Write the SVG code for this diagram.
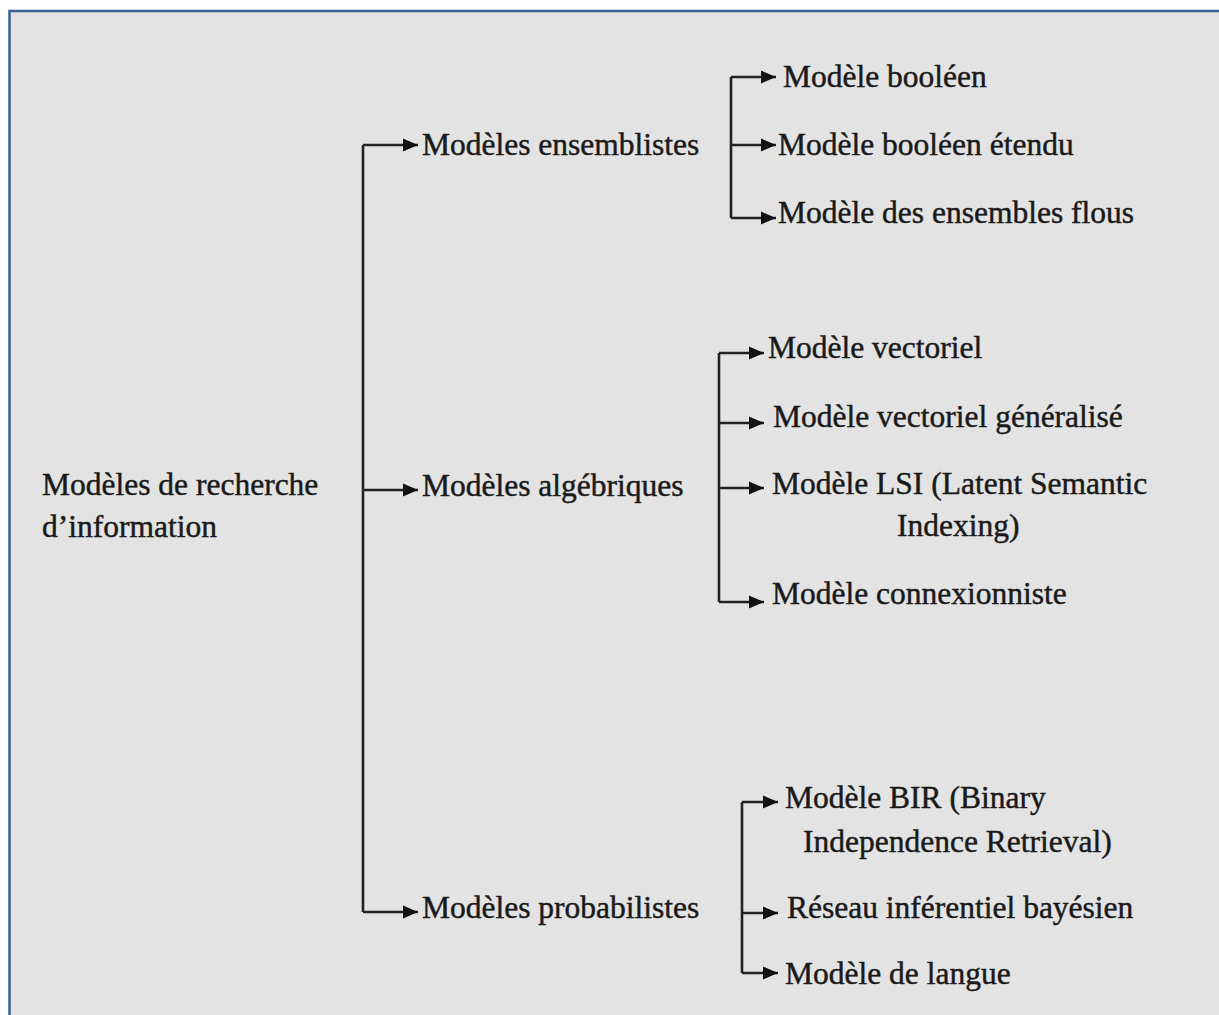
<svg xmlns="http://www.w3.org/2000/svg" width="1219" height="1015" viewBox="0 0 1219 1015">
  <defs>
    <marker id="arrow" markerUnits="userSpaceOnUse" markerWidth="16" markerHeight="14" refX="15" refY="7" orient="auto">
      <path d="M0,0.5 L15,7 L0,13.5 Z" fill="#111"/>
    </marker>
    <style>
      .lbl { font-family: "Liberation Serif", "Times New Roman", serif; font-size: 31.5px; fill: #1a1a1a; stroke: #1a1a1a; stroke-width: 0.45px; }
      .link { fill: none; stroke: #222; stroke-width: 2.6; }
      .arr { fill: none; stroke: #222; stroke-width: 2.6; marker-end: url(#arrow); }
    </style>
  </defs>

  <!-- page and framed panel -->
  <rect x="0" y="0" width="1219" height="1015" fill="#ffffff"/>
  <rect x="9.5" y="11" width="1220" height="1020" fill="#e3e3e3" stroke="#36608f" stroke-width="2.5"/>

  <!-- connectors -->
  <g id="connectors">
    <!-- root to the three families -->
    <path class="link" d="M363,145 V912"/>
    <path class="arr" d="M363,145 H418"/>
    <path class="arr" d="M363,490 H418"/>
    <path class="arr" d="M363,912 H418"/>
    <!-- set-theoretic models -->
    <path class="link" d="M731,77 V218"/>
    <path class="arr" d="M731,77 H776"/>
    <path class="arr" d="M731,145 H776"/>
    <path class="arr" d="M731,218 H776"/>
    <!-- algebraic models -->
    <path class="link" d="M719,353 V602"/>
    <path class="arr" d="M719,353 H764"/>
    <path class="arr" d="M719,423 H764"/>
    <path class="arr" d="M719,488 H764"/>
    <path class="arr" d="M719,602 H764"/>
    <!-- probabilistic models -->
    <path class="link" d="M742,802 V973"/>
    <path class="arr" d="M742,802 H778"/>
    <path class="arr" d="M742,913 H778"/>
    <path class="arr" d="M742,973 H778"/>
  </g>

  <g id="root">
    <text class="lbl" x="42" y="495">Modèles de recherche</text>
    <text class="lbl" x="42" y="537">d’information</text>
  </g>

  <g id="ensemblistes"><text class="lbl" x="422" y="155">Modèles ensemblistes</text></g>
  <g id="algebriques"><text class="lbl" x="422" y="496">Modèles algébriques</text></g>
  <g id="probabilistes"><text class="lbl" x="422" y="918">Modèles probabilistes</text></g>

  <g id="booleen"><text class="lbl" x="783" y="87">Modèle booléen</text></g>
  <g id="booleen-etendu"><text class="lbl" x="778" y="155">Modèle booléen étendu</text></g>
  <g id="ensembles-flous"><text class="lbl" x="778" y="223">Modèle des ensembles flous</text></g>

  <g id="vectoriel"><text class="lbl" x="768" y="358">Modèle vectoriel</text></g>
  <g id="vectoriel-generalise"><text class="lbl" x="773" y="427">Modèle vectoriel généralisé</text></g>
  <g id="lsi">
    <text class="lbl" x="772" y="494">Modèle LSI (Latent Semantic</text>
    <text class="lbl" x="897" y="536">Indexing)</text>
  </g>
  <g id="connexionniste"><text class="lbl" x="772" y="604">Modèle connexionniste</text></g>

  <g id="bir">
    <text class="lbl" x="785" y="808">Modèle BIR (Binary</text>
    <text class="lbl" x="803" y="852">Independence Retrieval)</text>
  </g>
  <g id="bayesien"><text class="lbl" x="787" y="918">Réseau inférentiel bayésien</text></g>
  <g id="langue"><text class="lbl" x="785" y="984">Modèle de langue</text></g>
</svg>
